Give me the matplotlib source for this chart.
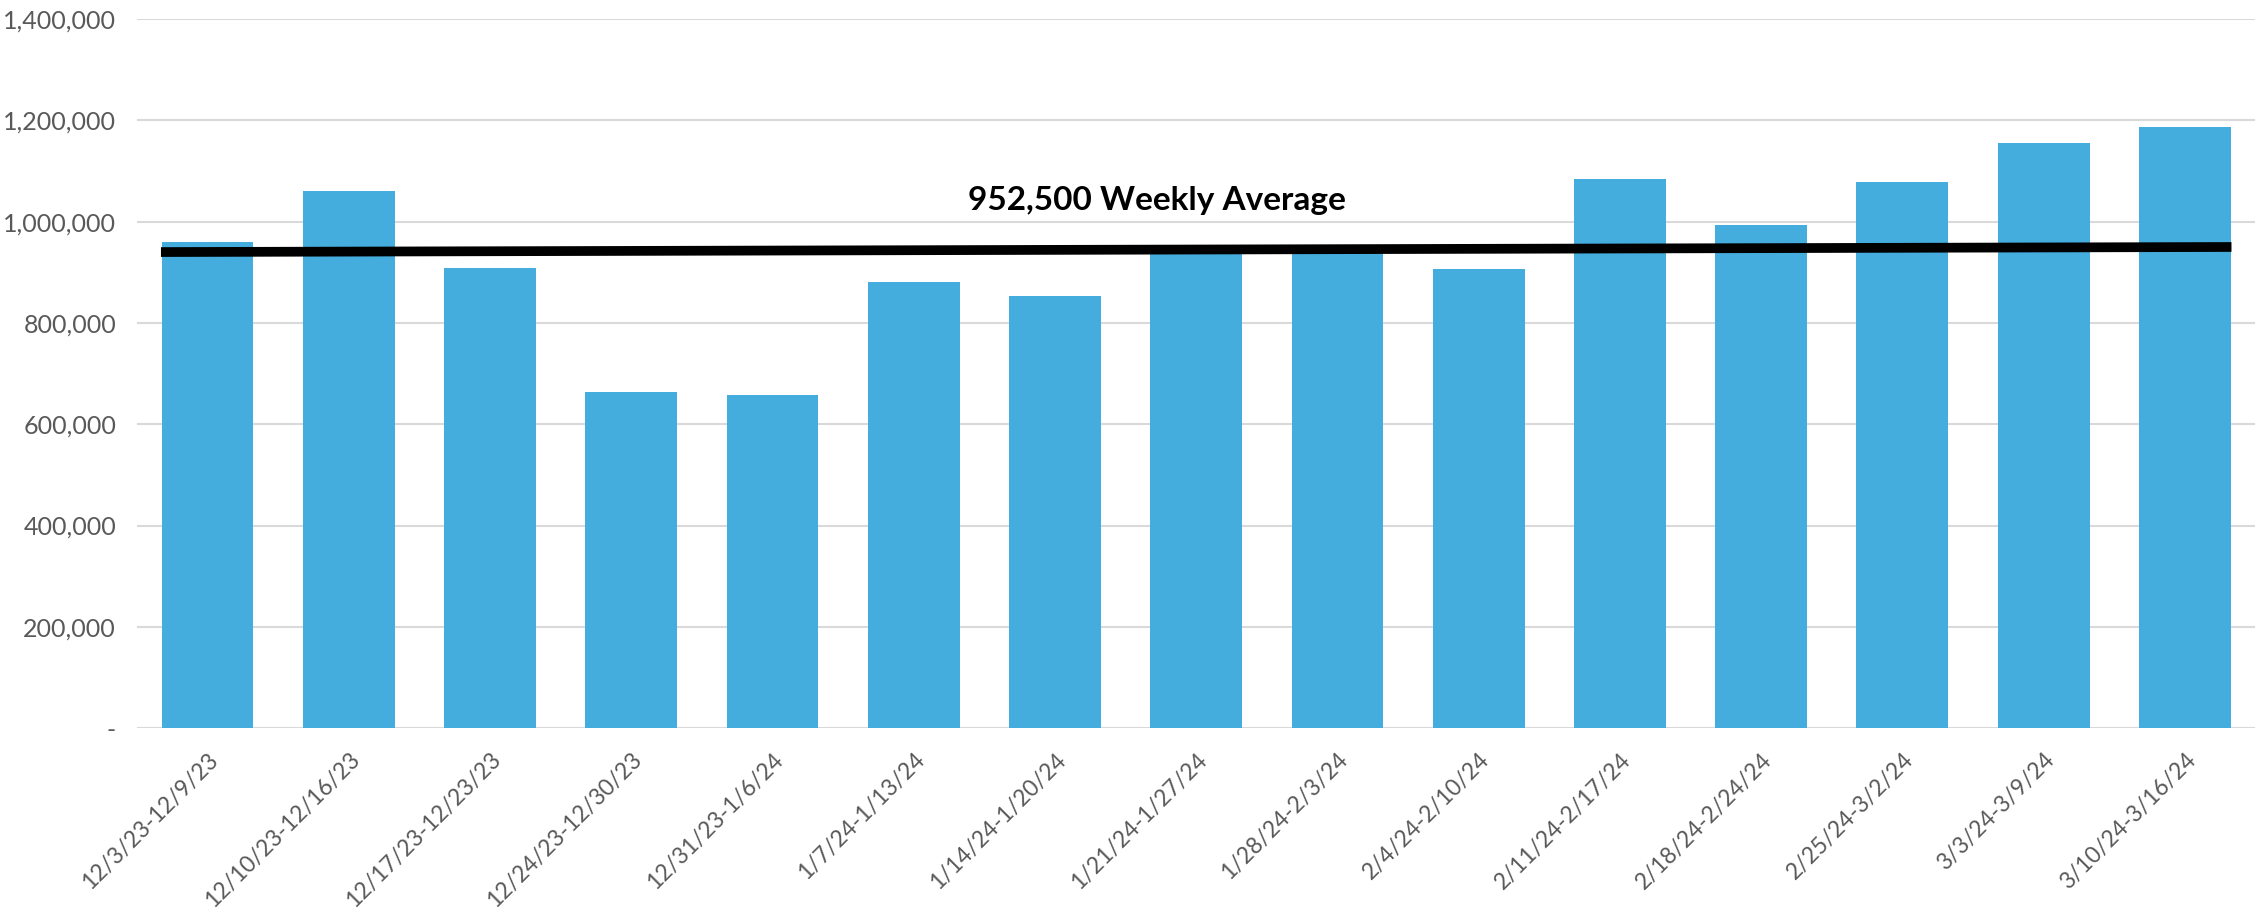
import numpy as np
import matplotlib.pyplot as plt
from matplotlib.ticker import FuncFormatter

weeks = ['12/3/23-12/9/23', '12/10/23-12/16/23', '12/17/23-12/23/23', '12/24/23-12/30/23',
         '12/31/23-1/6/24', '1/7/24-1/13/24', '1/14/24-1/20/24', '1/21/24-1/27/24',
         '1/28/24-2/3/24', '2/4/24-2/10/24', '2/11/24-2/17/24', '2/18/24-2/24/24',
         '2/25/24-3/2/24', '3/3/24-3/9/24', '3/10/24-3/16/24']
visits = [959000, 1061000, 908000, 664000, 657000, 880000, 854000, 946000,
          948000, 906000, 1084000, 993000, 1078000, 1155000, 1187000]
weekly_avg = 952500
# the drawn average line is slightly tilted in the original
avg_line_ends = [940000, 950000]

plt.rcParams['font.family'] = ['Lato', 'DejaVu Sans']

fig = plt.figure(figsize=(22.6, 9.09), dpi=100)
ax = fig.add_axes([0.0606, 0.199, 0.9374, 0.78])

x = np.arange(len(weeks))
ax.bar(x, visits, width=0.65, color='#45ADDE', zorder=2)
ax.plot([x[0] - 0.33, x[-1] + 0.33], avg_line_ends, color='black', linewidth=7,
        solid_capstyle='butt', zorder=3)
ax.text(6.72, 1041000, f'{weekly_avg:,} Weekly Average', ha='center', va='center',
        fontsize=24, fontweight='bold', color='black', zorder=4)

ax.set_xlim(-0.5, len(weeks) - 0.5)
ax.set_ylim(0, 1400000)
ax.set_yticks(np.arange(0, 1400001, 200000))
ax.yaxis.set_major_formatter(FuncFormatter(lambda v, p: '-' if v == 0 else f'{int(v):,}'))
ax.grid(axis='y', color='#d9d9d9', linewidth=1.5, zorder=0)
ax.set_axisbelow(True)
for s in ax.spines.values():
    s.set_visible(False)

ax.set_xticks(x)
ax.set_xticklabels(weeks, rotation=45, ha='right', rotation_mode='anchor')
ax.tick_params(axis='both', length=0, labelcolor='#595959')
ax.tick_params(axis='x', pad=15, labelsize=16.5)
ax.tick_params(axis='y', pad=15, labelsize=18)

fig.savefig('out.png', dpi=100)
